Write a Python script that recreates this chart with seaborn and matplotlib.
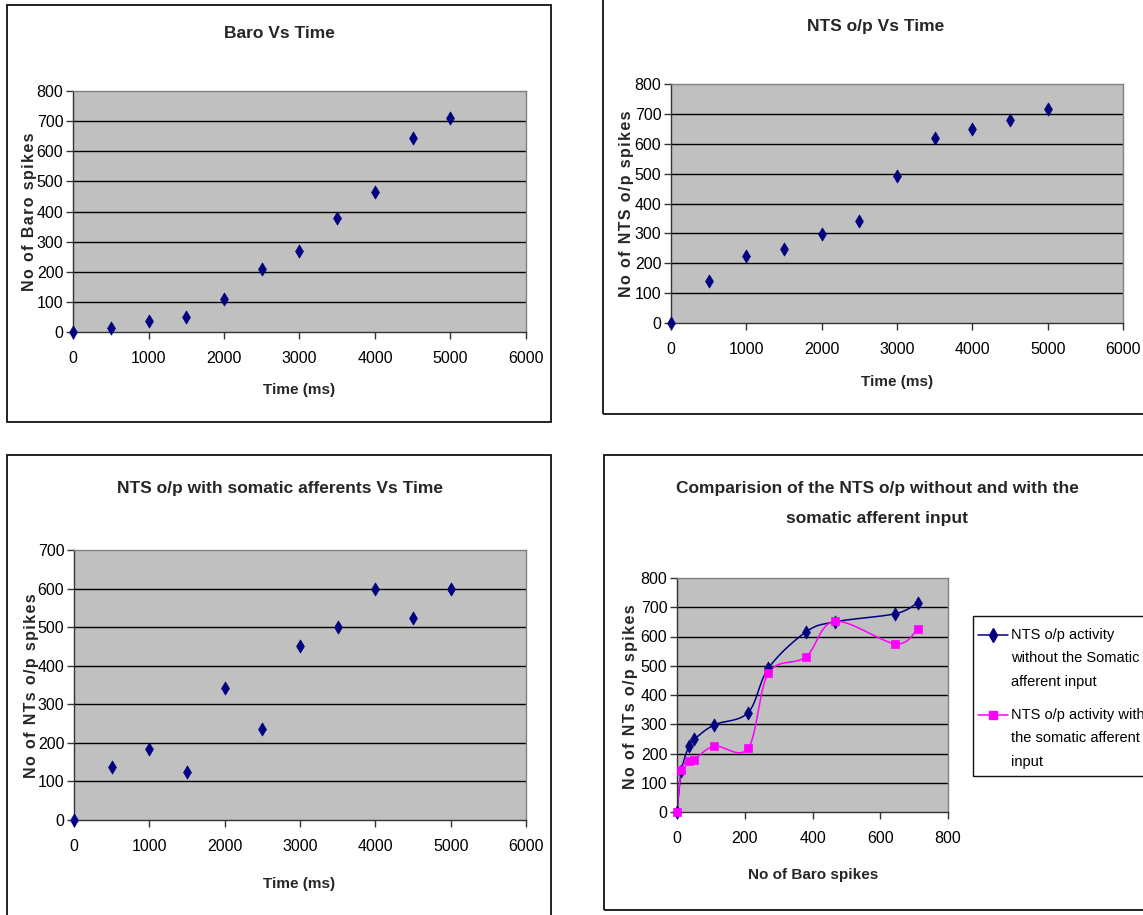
import numpy as np
import pandas as pd
import matplotlib
matplotlib.use("Agg")
import matplotlib.pyplot as plt
from matplotlib.lines import Line2D
from matplotlib.patches import Rectangle
import seaborn as sns

# ---- data -------------------------------------------------------------
time_ms = [0, 500, 1000, 1500, 2000, 2500, 3000, 3500, 4000, 4500, 5000]
baro_spikes = [0, 13, 35, 50, 110, 210, 270, 380, 465, 645, 710]
nts_spikes = [0, 140, 225, 248, 298, 340, 492, 620, 650, 678, 715]
nts_somatic_spikes = [0, 137, 185, 125, 342, 237, 450, 500, 600, 525, 600]

# comparison panel: NTS output against Baro spikes
cmp_without = [0, 140, 225, 248, 298, 340, 492, 615, 650, 678, 715]
cmp_with = [0, 143, 175, 178, 225, 218, 475, 530, 652, 575, 625]

legend_without = ["NTS o/p activity", "without the Somatic", "afferent input"]
legend_with = ["NTS o/p activity with", "the somatic afferent", "input"]

# ---- style ------------------------------------------------------------
sns.set_theme(style="white")
plt.rcParams["font.family"] = ["Liberation Sans", "DejaVu Sans"]

NAVY = "#000080"
MAGENTA = "#FF00FF"
PLOT_BG = "#C0C0C0"

W, H = 1143, 915
fig = plt.figure(figsize=(W / 100, H / 100), dpi=100)
fig.patch.set_facecolor("white")


def fx(x):
    return x / W


def fy(y):
    return 1 - y / H


def px_axes(l, t, r, b):
    return fig.add_axes([l / W, 1 - b / H, (r - l) / W, (b - t) / H])


def frame(l, t, r, b, lw=1.3):
    fig.patches.append(Rectangle((fx(l), fy(b)), (r - l) / W, (b - t) / H,
                                 transform=fig.transFigure, fill=False,
                                 edgecolor="#111111", linewidth=lw, zorder=0))


def spaced(s):
    # letter-spaced axis caption
    return "\u200a".join(s)


def style_axes(ax, xmax, xstep, ymax, ystep):
    ax.set_facecolor(PLOT_BG)
    ax.set_xlim(0, xmax)
    ax.set_ylim(0, ymax)
    ax.set_xticks(np.arange(0, xmax + 1, xstep))
    ax.set_yticks(np.arange(0, ymax + 1, ystep))
    ax.grid(False)
    for y in np.arange(ystep, ymax, ystep):
        ax.axhline(y, color="black", linewidth=1.0, zorder=1)
    for side in ("top", "right"):
        ax.spines[side].set_color("#808080")
        ax.spines[side].set_linewidth(1.0)
    for side in ("left", "bottom"):
        ax.spines[side].set_color("#333333")
        ax.spines[side].set_linewidth(1.0)
    ax.tick_params(axis="both", which="major", direction="out", length=5,
                   width=1, color="#333333", labelsize=11.5, labelcolor="black",
                   bottom=True, left=True)
    ax.tick_params(axis="x", pad=9)
    ax.tick_params(axis="y", pad=2)


def scatter_panel(ax, x, y):
    df = pd.DataFrame({"x": x, "y": y})
    sns.scatterplot(data=df, x="x", y="y", ax=ax, marker="d", s=45,
                    color=NAVY, edgecolor=NAVY, linewidth=0.5, zorder=3,
                    clip_on=False)
    ax.set_xlabel("")
    ax.set_ylabel("")


def smooth_curve(x, y, ax_w, ax_h, xmax, ymax, n=30):
    """Bezier smoothing (Catmull-Rom tangents) computed in screen proportions."""
    p = np.column_stack([np.asarray(x, float) / xmax * ax_w,
                         np.asarray(y, float) / ymax * ax_h])
    pts = np.vstack([p[0], p, p[-1]])
    out = []
    for i in range(1, len(pts) - 2):
        p0, p1, p2, p3 = pts[i - 1], pts[i], pts[i + 1], pts[i + 2]
        c1 = p1 + (p2 - p0) / 6.0
        c2 = p2 - (p3 - p1) / 6.0
        t = np.linspace(0, 1, n)[:, None]
        seg = ((1 - t) ** 3) * p1 + 3 * ((1 - t) ** 2) * t * c1 \
            + 3 * (1 - t) * t ** 2 * c2 + t ** 3 * p2
        out.append(seg if i == 1 else seg[1:])
    c = np.vstack(out)
    return c[:, 0] / ax_w * xmax, c[:, 1] / ax_h * ymax


title_kw = dict(ha="center", va="center", fontsize=12.5, fontweight="bold")
xlab_kw = dict(ha="center", va="center", fontsize=11, fontweight="bold")
ylab_kw = dict(ha="center", va="center", fontsize=11.5, fontweight="bold",
               rotation=90)

# ---- panel 1: Baro vs time --------------------------------------------
frame(7, 5, 551, 422)
ax1 = px_axes(73, 91, 526, 332)
style_axes(ax1, 6000, 1000, 800, 100)
scatter_panel(ax1, time_ms, baro_spikes)
fig.text(fx(279), fy(33), "Baro Vs Time", **title_kw)
fig.text(fx(299), fy(390), "Time (ms)", **xlab_kw)
fig.text(fx(30), fy(212), spaced("No of Baro spikes"), **ylab_kw)

# ---- panel 2: NTS output vs time --------------------------------------
frame(603, -20, 1170, 414)
ax2 = px_axes(671, 84, 1123, 323)
style_axes(ax2, 6000, 1000, 800, 100)
scatter_panel(ax2, time_ms, nts_spikes)
fig.text(fx(876), fy(27), "NTS o/p Vs Time", **title_kw)
fig.text(fx(897), fy(382), "Time (ms)", **xlab_kw)
fig.text(fx(627), fy(204), spaced("No of NTS o/p spikes"), **ylab_kw)

# ---- panel 3: NTS output with somatic afferents -----------------------
frame(7, 455, 551, 930)
ax3 = px_axes(74, 550, 526, 820)
style_axes(ax3, 6000, 1000, 700, 100)
scatter_panel(ax3, time_ms, nts_somatic_spikes)
fig.text(fx(280), fy(488), "NTS o/p with somatic afferents Vs Time",
         **title_kw)
fig.text(fx(299), fy(884), "Time (ms)", **xlab_kw)
fig.text(fx(32), fy(686), spaced("No of NTs o/p spikes"), **ylab_kw)

# ---- panel 4: comparison ----------------------------------------------
frame(604, 455, 1170, 910)
l4, t4, r4, b4 = 677, 578, 948, 812
ax4 = px_axes(l4, t4, r4, b4)
style_axes(ax4, 800, 200, 800, 100)
for yvals, col, mk, ms in ((cmp_without, NAVY, "d", 45),
                           (cmp_with, MAGENTA, "s", 30)):
    sx, sy = smooth_curve(baro_spikes, yvals, r4 - l4, b4 - t4, 800, 800)
    sns.lineplot(x=sx, y=sy, ax=ax4, color=col, linewidth=1.1, sort=False,
                 estimator=None, zorder=2)
    sns.scatterplot(x=baro_spikes, y=yvals, ax=ax4, marker=mk, s=ms,
                    color=col, edgecolor=col, linewidth=0.5, zorder=3,
                    clip_on=False)
ax4.set_xlabel("")
ax4.set_ylabel("")
fig.text(fx(877), fy(488), "Comparision of the NTS o/p without and with the",
         **title_kw)
fig.text(fx(877), fy(519), "somatic afferent input", **title_kw)
fig.text(fx(813), fy(875), "No of Baro spikes", **xlab_kw)
fig.text(fx(630), fy(697), spaced("No of NTs o/p spikes"), **ylab_kw)

# legend box beside the comparison plot
frame(973, 616, 1170, 776, lw=1.0)
entries = ((legend_without, NAVY, "d", 7, 635),
           (legend_with, MAGENTA, "s", 5.5, 715))
for lines, col, mk, msz, y0 in entries:
    fig.add_artist(Line2D([fx(978), fx(1008)], [fy(y0), fy(y0)],
                          transform=fig.transFigure, color=col, linewidth=1.1))
    fig.add_artist(Line2D([fx(993)], [fy(y0)], transform=fig.transFigure,
                          color=col, marker=mk, markersize=msz,
                          markeredgecolor=col))
    for k, line in enumerate(lines):
        fig.text(fx(1011), fy(y0 + 23.5 * k), line, ha="left", va="center",
                 fontsize=10.5, color="black")

fig.savefig("out.png", dpi=100)
